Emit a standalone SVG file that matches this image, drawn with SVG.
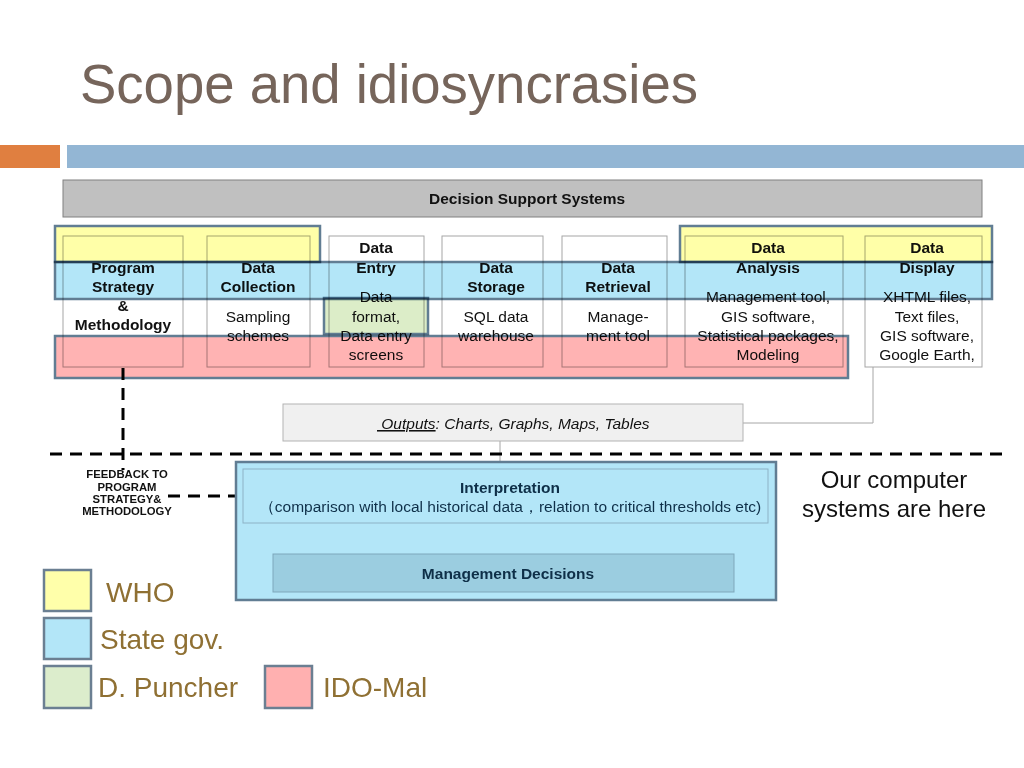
<svg xmlns="http://www.w3.org/2000/svg" width="1024" height="768" viewBox="0 0 1024 768">
<style>
text{font-family:"Liberation Sans",Arial,sans-serif;}
.col{fill:#ffffff;stroke:#a6a6a6;stroke-width:1;}
.h{font-size:15.5px;font-weight:bold;text-anchor:middle;fill:#111;}
.t{font-size:15.5px;text-anchor:middle;fill:#111;}
.ov{stroke:#617d93;stroke-width:2.5;mix-blend-mode:multiply;}
.yel{fill:#ffffa8;}
.blu{fill:#b3e6f8;}
.red{fill:#ffb3b3;}
.grn{fill:#dcedc8;}
.thin{stroke:#a6a6a6;stroke-width:1;fill:none;}
.dash{stroke:#000;stroke-width:3;stroke-dasharray:12 8;fill:none;}
.leg{font-size:28px;fill:#8f7033;}
.fb{font-size:11.3px;font-weight:bold;text-anchor:middle;fill:#111;}
.it{font-size:15.5px;fill:#0e2f48;text-anchor:middle;}
</style>

<g id="title">
<text x="80" y="103" font-size="56" fill="#76655b" textLength="618" lengthAdjust="spacingAndGlyphs">Scope and idiosyncrasies</text>
</g>
<g id="header-bars">
<rect x="0" y="145" width="60" height="23" fill="#e07f40"/>
<rect x="67" y="145" width="957" height="23" fill="#93b6d4"/>
</g>

<g id="dss">
<rect x="63" y="180" width="919" height="37" fill="#c0c0c0" stroke="#808080" stroke-width="1"/>
<text class="h" x="527" y="204" textLength="196" lengthAdjust="spacingAndGlyphs">Decision Support Systems</text>
</g>

<g id="connectors">
<polyline class="thin" points="873,367 873,423 743,423"/>
<line class="thin" x1="500" y1="441" x2="500" y2="469"/>
<line class="thin" x1="500" y1="523" x2="500" y2="554"/>
</g>

<g id="col-program">
<rect class="col" x="63" y="236" width="120" height="131"/>
<text class="h" x="123" y="273">Program</text>
<text class="h" x="123" y="292">Strategy</text>
<text class="h" x="123" y="311">&amp;</text>
<text class="h" x="123" y="330">Methodology</text>
</g>
<g id="col-collection">
<rect class="col" x="207" y="236" width="103" height="131"/>
<text class="h" x="258" y="273">Data</text>
<text class="h" x="258" y="292">Collection</text>
<text class="t" x="258" y="322">Sampling</text>
<text class="t" x="258" y="341">schemes</text>
</g>
<g id="col-entry">
<rect class="col" x="329" y="236" width="95" height="131"/>
<text class="h" x="376" y="253">Data</text>
<text class="h" x="376" y="273">Entry</text>
<text class="t" x="376" y="302">Data</text>
<text class="t" x="376" y="322">format,</text>
<text class="t" x="376" y="341">Data entry</text>
<text class="t" x="376" y="360">screens</text>
</g>
<g id="col-storage">
<rect class="col" x="442" y="236" width="101" height="131"/>
<text class="h" x="496" y="273">Data</text>
<text class="h" x="496" y="292">Storage</text>
<text class="t" x="496" y="322">SQL data</text>
<text class="t" x="496" y="341">warehouse</text>
</g>
<g id="col-retrieval">
<rect class="col" x="562" y="236" width="105" height="131"/>
<text class="h" x="618" y="273">Data</text>
<text class="h" x="618" y="292">Retrieval</text>
<text class="t" x="618" y="322">Manage-</text>
<text class="t" x="618" y="341">ment tool</text>
</g>
<g id="col-analysis">
<rect class="col" x="685" y="236" width="158" height="131"/>
<text class="h" x="768" y="253">Data</text>
<text class="h" x="768" y="273">Analysis</text>
<text class="t" x="768" y="302">Management tool,</text>
<text class="t" x="768" y="322">GIS software,</text>
<text class="t" x="768" y="341">Statistical packages,</text>
<text class="t" x="768" y="360">Modeling</text>
</g>
<g id="col-display">
<rect class="col" x="865" y="236" width="117" height="131"/>
<text class="h" x="927" y="253">Data</text>
<text class="h" x="927" y="273">Display</text>
<text class="t" x="927" y="302">XHTML files,</text>
<text class="t" x="927" y="322">Text files,</text>
<text class="t" x="927" y="341">GIS software,</text>
<text class="t" x="927" y="360">Google Earth,</text>
</g>

<g id="overlays">
<rect class="ov yel" x="55" y="226" width="265" height="36"/>
<rect class="ov yel" x="680" y="226" width="312" height="36"/>
<rect class="ov blu" x="55" y="262" width="937" height="37"/>
<rect class="ov grn" x="324" y="298" width="104" height="36"/>
<rect class="ov red" x="55" y="336" width="793" height="42"/>
</g>

<g id="outputs">
<rect x="283" y="404" width="460" height="37" fill="#f0f0f0" stroke="#b3b3b3" stroke-width="1"/>
<text x="377" y="429" font-size="15.5" font-style="italic" fill="#111" xml:space="preserve"><tspan text-decoration="underline"> Outputs</tspan>: Charts, Graphs, Maps, Tables</text>
</g>

<g id="dividers">
<line class="dash" x1="50" y1="454" x2="1002" y2="454"/>
<line class="dash" x1="123" y1="368" x2="123" y2="470"/>
<line class="dash" x1="168" y1="496" x2="243" y2="496" stroke-width="2.5" stroke-dasharray="9 6"/>
</g>

<g id="feedback">
<text class="fb" x="127" y="478">FEEDBACK TO</text>
<text class="fb" x="127" y="491">PROGRAM</text>
<text class="fb" x="127" y="503">STRATEGY&amp;</text>
<text class="fb" x="127" y="515">METHODOLOGY</text>
</g>

<g id="interpretation-block">
<rect x="236" y="462" width="540" height="138" fill="#b3e6f8" stroke="#617d93" stroke-width="2.5"/>
<rect x="243" y="469" width="525" height="54" fill="#b3e6f8" stroke="#8db2c6" stroke-width="1"/>
<text class="it" x="510" y="493" font-weight="bold">Interpretation</text>
<text class="it" x="510" y="512">（comparison with local historical data，relation to critical thresholds etc)</text>
</g>
<g id="management">
<rect x="273" y="554" width="461" height="38" fill="#9bcde0" stroke="#7ea7bb" stroke-width="1"/>
<text class="it" x="508" y="579" font-weight="bold">Management Decisions</text>
</g>

<g id="note">
<text x="894" y="488" font-size="24" text-anchor="middle" fill="#111">Our computer</text>
<text x="894" y="517" font-size="24" text-anchor="middle" fill="#111">systems are here</text>
</g>

<g id="legend">
<rect x="44" y="570" width="47" height="41" fill="#ffffaa" stroke="#6b7f92" stroke-width="2.5"/>
<text class="leg" x="106" y="602">WHO</text>
<rect x="44" y="618" width="47" height="41" fill="#b3e6f8" stroke="#6b7f92" stroke-width="2.5"/>
<text class="leg" x="100" y="649">State gov.</text>
<rect x="44" y="666" width="47" height="42" fill="#dcedcc" stroke="#6b7f92" stroke-width="2.5"/>
<text class="leg" x="98" y="697">D. Puncher</text>
<rect x="265" y="666" width="47" height="42" fill="#ffb0b0" stroke="#6b7f92" stroke-width="2.5"/>
<text class="leg" x="323" y="697">IDO-Mal</text>
</g>
</svg>
